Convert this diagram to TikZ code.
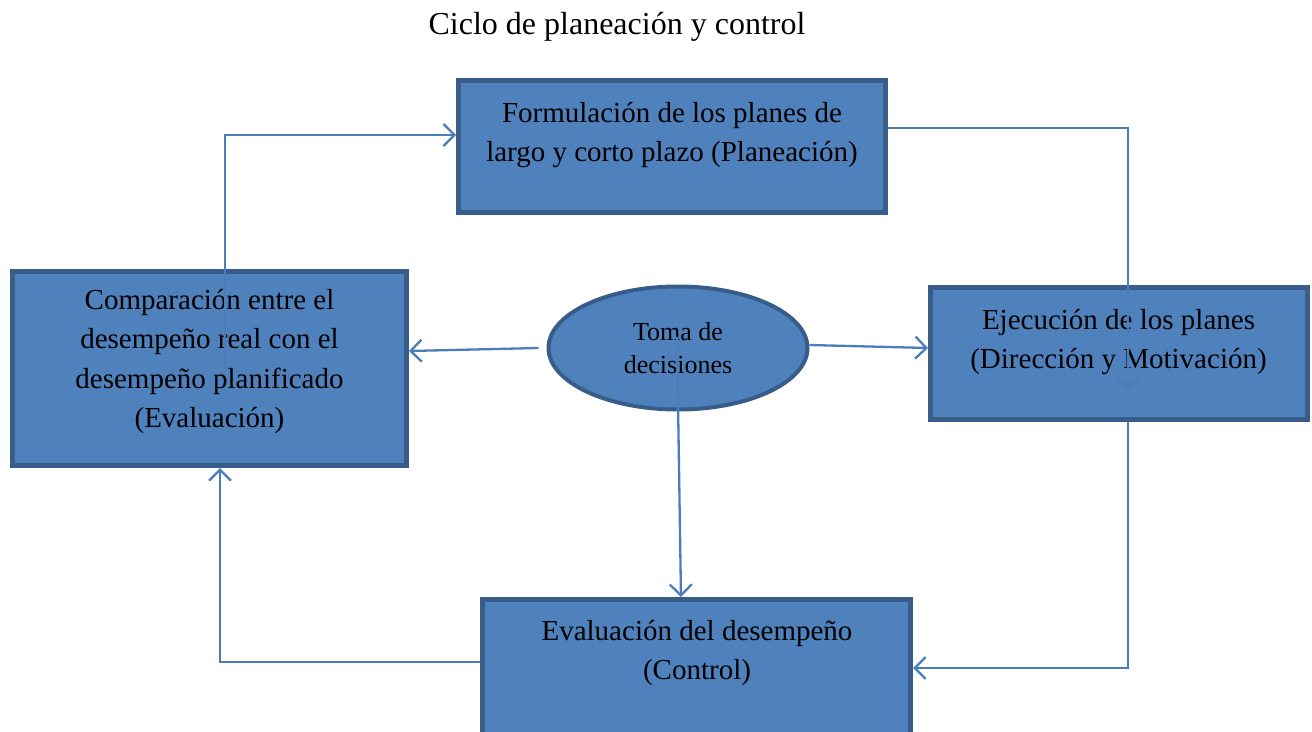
\documentclass[tikz,border=0pt]{standalone}
\usepackage{fontspec}
\setmainfont{Liberation Serif}
\usetikzlibrary{arrows.meta,shapes.geometric}
\definecolor{boxfill}{HTML}{4F81BD}
\definecolor{boxline}{HTML}{385D8A}
\definecolor{conncol}{HTML}{4A7EBB}
\tikzset{
  boxnode/.style={draw=boxline, fill=boxfill, line width=5pt, rectangle, inner sep=0pt},
  ellnode/.style={draw=boxline, fill=boxfill, line width=4pt, ellipse, inner sep=0pt, minimum width=259pt, minimum height=123pt},
  boxtext/.style={align=center, font=\fontsize{29}{39.5}\selectfont, text=black, inner sep=0pt},
  elltext/.style={align=center, font=\fontsize{26}{33}\selectfont, text=black, inner sep=0pt},
  conn/.style={draw=conncol, line width=2.3pt, -{Straight Barb[length=11pt,width=22pt]}}
}
\begin{document}
\begin{tikzpicture}[x=1pt,y=-1pt]
\useasboundingbox (0,0) rectangle (1312,731);
\clip (0,0) rectangle (1312,731);
% title
\node[font=\fontsize{32}{36}\selectfont, inner sep=0pt] (title) at (617,27) {Ciclo de planeación y control};
% boxes
\node[boxnode, minimum width=427pt, minimum height=132pt] (tb) at (672,146.5) {};
\node[boxnode, minimum width=394pt, minimum height=194pt] (lb) at (209.5,368.5) {};
\node[boxnode, minimum width=377pt, minimum height=132pt] (rb) at (1119,353.5) {};
\node[boxnode, minimum width=428pt, minimum height=140pt] (bb) at (696.5,669.5) {};
\node[ellnode] (el) at (678,348) {};
% texts
\node[boxtext] (tbt) at (672,135) {Formulación de los planes de\\largo y corto plazo (Planeación)};
\node[boxtext] (lbt) at (209.5,361.5) {Comparación entre el\\desempeño real con el\\desempeño planificado\\(Evaluación)};
\node[boxtext] (rbt) at (1118.5,342) {Ejecución de los planes\\(Dirección y Motivación)};
\node[boxtext] (bbt) at (697,653) {Evaluación del desempeño\\(Control)};
\node[elltext] (elt) at (678,348) {Toma de\\decisiones};
% connectors
\draw[conn] ([xshift=15.5pt]lb.center) |- ([yshift=11.5pt]tb.west);
\draw[conn] ([yshift=18.5pt]tb.east) -| ([xshift=9pt,yshift=-36.5pt]rb.center);
\draw[conn] ([xshift=9pt]rb.south) |- ([yshift=1.5pt]bb.east);
\draw[conn] ([yshift=7.5pt]bb.west) -| ([xshift=10.5pt]lb.south);
\draw[conn] ([xshift=-8pt]el.west) -- ([yshift=17.5pt]lb.east);
\draw[conn] ([yshift=3pt]el.east) -- ([yshift=5.5pt]rb.west);
\draw[conn] ([xshift=-1pt,yshift=11pt]el.center) -- ([xshift=-15.5pt]bb.north);
\end{tikzpicture}
\end{document}
